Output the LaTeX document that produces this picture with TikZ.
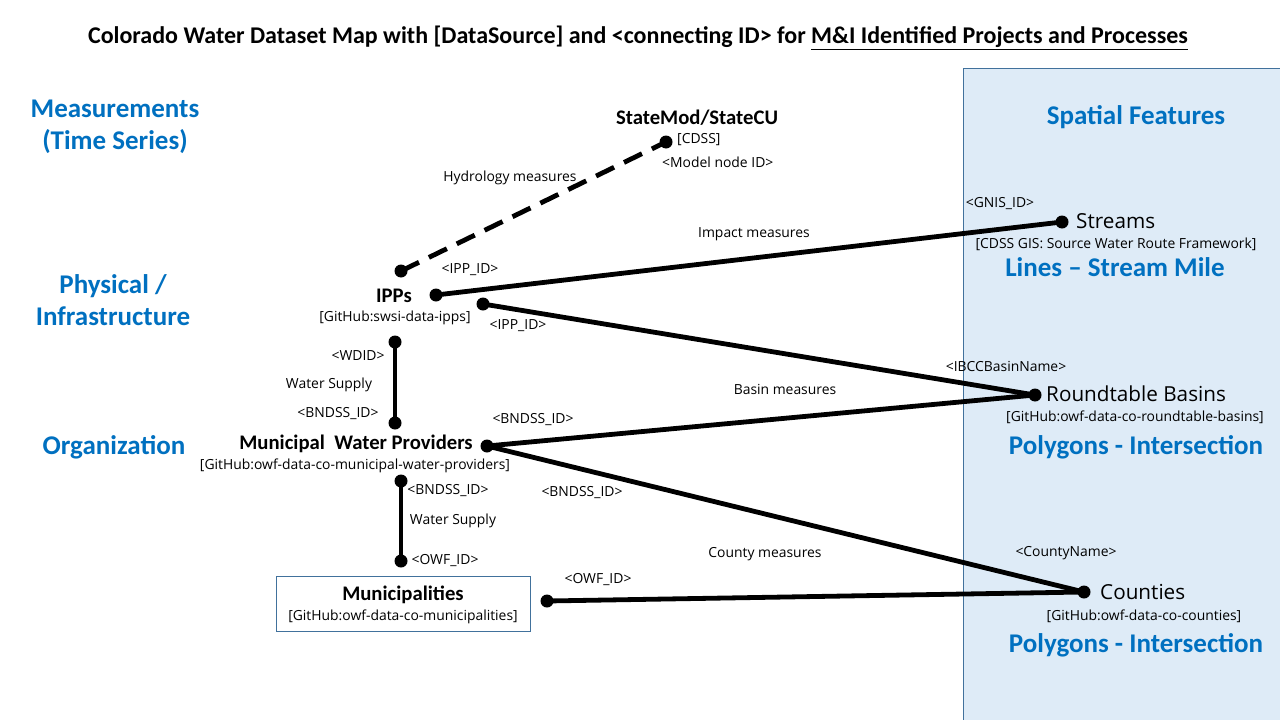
\documentclass[tikz,border=0pt]{standalone}
\usepackage{fontspec}
\setmainfont{Carlito}
\newfontfamily\lblfont{Open Sans}
\begin{document}
\begin{tikzpicture}[x=1pt,y=-1pt,
  lbl/.style={font=\lblfont\fontsize{13.9}{16}\selectfont, inner sep=0pt},
  head/.style={font=\bfseries\fontsize{27}{32}\selectfont, text=headblue, align=center, inner sep=0pt},
  ent/.style={font=\bfseries\fontsize{20.7}{22}\selectfont, inner sep=0pt},
  feat/.style={font=\lblfont\fontsize{20.7}{22}\selectfont, inner sep=0pt},
  dotn/.style={circle, fill=black, minimum size=13pt, inner sep=0pt},
  link/.style={line width=4.8pt},
  dlink/.style={line width=4.8pt, dash pattern=on 20pt off 11pt}]
\definecolor{headblue}{HTML}{0070C0}
\definecolor{panelfill}{HTML}{DEEBF7}
\definecolor{panelline}{HTML}{41719C}
\useasboundingbox (0,0) rectangle (1280,720);
\fill[white] (0,0) rectangle (1280,720);
% panel
\draw[panelline, fill=panelfill, line width=0.8pt] (963,68) rectangle (1284,724);
% title
\node[font=\bfseries\fontsize{24}{28}\selectfont, inner sep=0pt] (title) at (638,38) {Colorado Water Dataset Map with [DataSource] and <connecting ID> for \underline{M\&I Identified Projects and Processes}};
% category headings
\node[head] (hmeas) at (115,127) {Measurements\\(Time Series)};
\node[head] (hphys) at (113,300) {Physical /\\Infrastructure};
\node[head] (horg) at (114,447) {Organization};
\node[head] (hspat) at (1136,117) {Spatial Features};
\node[head] (hlines) at (1115,267) {Lines -- Stream Mile};
\node[head] (hpoly1) at (1136,447) {Polygons - Intersection};
\node[head] (hpoly2) at (1136,645) {Polygons - Intersection};
% dots
\node[dotn] (dsm) at (666,142) {};
\node[dotn] (dipph) at (401,271) {};
\node[dotn] (dipp1) at (436,295) {};
\node[dotn] (dipp2) at (483,304) {};
\node[dotn] (dippv) at (395,342) {};
\node[dotn] (dmwpv1) at (395,423) {};
\node[dotn] (dmwp) at (487,446) {};
\node[dotn] (dmwpv2) at (401,481) {};
\node[dotn] (dmunv) at (401,561) {};
\node[dotn] (dmun) at (547,601) {};
\node[dotn] (dstr) at (1062,222) {};
\node[dotn] (drb) at (1035,395) {};
\node[dotn] (dcty) at (1084,592) {};
% connectors
\draw[dlink] (dipph.center) -- (dsm.center);
\draw[link] (dipp1.center) -- (dstr.center);
\draw[link] (dipp2.center) -- (drb.center);
\draw[link] (dmwp.center) -- (drb.center);
\draw[link] (dmwp.center) -- (dcty.center);
\draw[link] (dmun.center) -- (dcty.center);
\draw[link] (dippv.center) -- (dmwpv1.center);
\draw[link] (dmwpv2.center) -- (dmunv.center);
% StateMod
\node[ent] (sm) at (697,118) {StateMod/StateCU};
\node[lbl, anchor=west] (smsrc) at (677,140) {[CDSS]};
\node[lbl, anchor=west] (smid) at (662,162) {<Model node ID>};
\node[lbl] (hyd) at (510,178) {Hydrology measures};
% IPPs
\node[ent] (ipps) at (394,296) {IPPs};
\node[lbl] (ippsrc) at (395,318) {[GitHub:swsi-data-ipps]};
\node[lbl] (ippid1) at (470,270) {<IPP\_ID>};
\node[lbl] (ippid2) at (518,326) {<IPP\_ID>};
\node[lbl] (imp) at (754,234) {Impact measures};
% Streams
\node[lbl] (gnis) at (1000,204) {<GNIS\_ID>};
\node[feat, anchor=west] (str) at (1076,221) {Streams};
\node[lbl] (strsrc) at (1116,244) {[CDSS GIS: Source Water Route Framework]};
% Roundtable
\node[lbl] (ibcc) at (1006,366) {<IBCCBasinName>};
\node[feat, anchor=west] (rb) at (1046,394) {Roundtable Basins};
\node[lbl] (rbsrc) at (1135,417) {[GitHub:owf-data-co-roundtable-basins]};
\node[lbl] (basin) at (785,389) {Basin measures};
% vertical IPP-MWP
\node[lbl] (wdid) at (358,356) {<WDID>};
\node[lbl] (ws1) at (329,385) {Water Supply};
\node[lbl] (bn1) at (338,414) {<BNDSS\_ID>};
% MWP
\node[ent] (mwp) at (356,444) {Municipal\ \ Water Providers};
\node[lbl] (mwpsrc) at (355,466) {[GitHub:owf-data-co-municipal-water-providers]};
\node[lbl] (bn2) at (533,420) {<BNDSS\_ID>};
\node[lbl] (bn3) at (582,493) {<BNDSS\_ID>};
% vertical MWP-Mun
\node[lbl] (bn4) at (448,491) {<BNDSS\_ID>};
\node[lbl] (ws2) at (453,521) {Water Supply};
\node[lbl] (owf1) at (445,561) {<OWF\_ID>};
% Municipalities
\draw[panelline, line width=0.9pt] (276,576) rectangle (530,631);
\node[ent] (mun) at (403,595) {Municipalities};
\node[lbl] (munsrc) at (403,617) {[GitHub:owf-data-co-municipalities]};
\node[lbl] (owf2) at (598,580) {<OWF\_ID>};
% Counties
\node[lbl] (cmeas) at (765,554) {County measures};
\node[lbl] (cname) at (1066,553) {<CountyName>};
\node[feat, anchor=west] (cty) at (1100,592) {Counties};
\node[lbl] (ctysrc) at (1144,616) {[GitHub:owf-data-co-counties]};
\end{tikzpicture}
\end{document}
